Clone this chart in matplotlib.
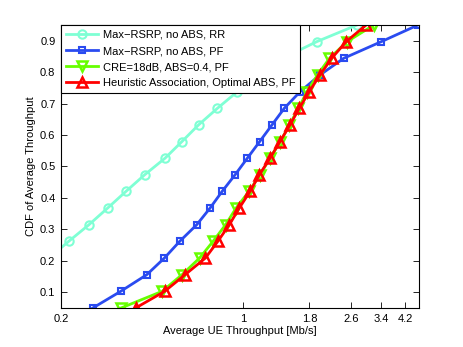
import numpy as np
import matplotlib
matplotlib.use('Agg')
import matplotlib.pyplot as plt
from matplotlib.ticker import FixedLocator, FixedFormatter, NullLocator

plt.rcParams['font.family'] = ['Liberation Sans', 'DejaVu Sans']
plt.rcParams['font.size'] = 8

# CDF levels (same for every curve)
cdf = np.linspace(0.05, 0.95, 18)

# throughput quantiles [Mb/s]
rr_noabs = [None, None, None, 0.180, 0.214, 0.256, 0.302, 0.355, 0.419, 0.502,
            0.583, 0.675, 0.798, 0.952, 1.14, 1.42, 1.92, 2.74]
pf_noabs = [0.265, 0.339, 0.427, 0.499, 0.571, 0.664, 0.747, 0.831, 0.932, 1.039,
            1.159, 1.292, 1.441, 1.658, 1.975, 2.436, 3.397, 4.70]
cre_pf = [0.340, 0.489, 0.583, 0.681, 0.767, 0.857, 0.940, 1.054, 1.162, 1.270,
          1.392, 1.508, 1.633, 1.761, 1.932, 2.148, 2.51, 3.18]
heur_pf = [0.387, 0.500, 0.599, 0.717, 0.800, 0.886, 0.967, 1.064, 1.155, 1.270,
           1.387, 1.515, 1.645, 1.797, 1.975, 2.19, 2.49, 2.97]

labels = ['Max\u2212RSRP, no ABS, RR', 'Max\u2212RSRP, no ABS, PF',
          'CRE=18dB, ABS=0.4, PF', 'Heuristic Association, Optimal ABS, PF']
xticks = [0.2, 1, 1.8, 2.6, 3.4, 4.2]
yticks = [0.1, 0.2, 0.3, 0.4, 0.5, 0.6, 0.7, 0.8, 0.9]

fig = plt.figure(figsize=(4.63, 3.47), dpi=100)
ax = fig.add_axes([0.1317, 0.1124, 0.7733, 0.8156])

rr = [(x, y) for x, y in zip(rr_noabs, cdf) if x is not None]
ax.plot([p[0] for p in rr], [p[1] for p in rr], '-o', color='#7fffd4', lw=2,
        ms=6, mfc='none', mew=1.5, label=labels[0])
ax.plot(pf_noabs, cdf, '-s', color='#2a4bf0', lw=2, ms=5, mfc='none', mew=1.5,
        label=labels[1])
ax.plot(cre_pf, cdf, '-v', color='#66ff00', lw=2, ms=7, mfc='none', mew=1.8,
        label=labels[2])
ax.plot(heur_pf, cdf, '-^', color='#ff0000', lw=2, ms=7, mfc='none', mew=1.8,
        label=labels[3])

ax.set_xscale('log')
ax.set_xlim(0.2, 4.74)
ax.set_ylim(0.05, 0.95)
ax.xaxis.set_major_locator(FixedLocator(xticks))
ax.xaxis.set_major_formatter(FixedFormatter([str(t) for t in xticks]))
ax.xaxis.set_minor_locator(NullLocator())
ax.set_yticks(yticks)
ax.set_yticklabels([str(t) for t in yticks])
ax.tick_params(direction='in', top=True, right=True, length=4, width=0.6,
               labelsize=8, pad=4)
for s in ax.spines.values():
    s.set_linewidth(0.8)

ax.set_xlabel('Average UE Throughput [Mb/s]', fontsize=8, labelpad=2)
ax.set_ylabel('CDF of Average Throughput', fontsize=8, labelpad=3)

leg = ax.legend(loc='upper left', bbox_to_anchor=(0, 1), fontsize=8,
                numpoints=1, handlelength=2.9, handletextpad=0.4,
                labelspacing=0.55, borderpad=0.45, borderaxespad=0,
                fancybox=False, framealpha=1)
leg.get_frame().set_edgecolor('black')
leg.get_frame().set_linewidth(0.8)

fig.savefig('out.png', dpi=100)
